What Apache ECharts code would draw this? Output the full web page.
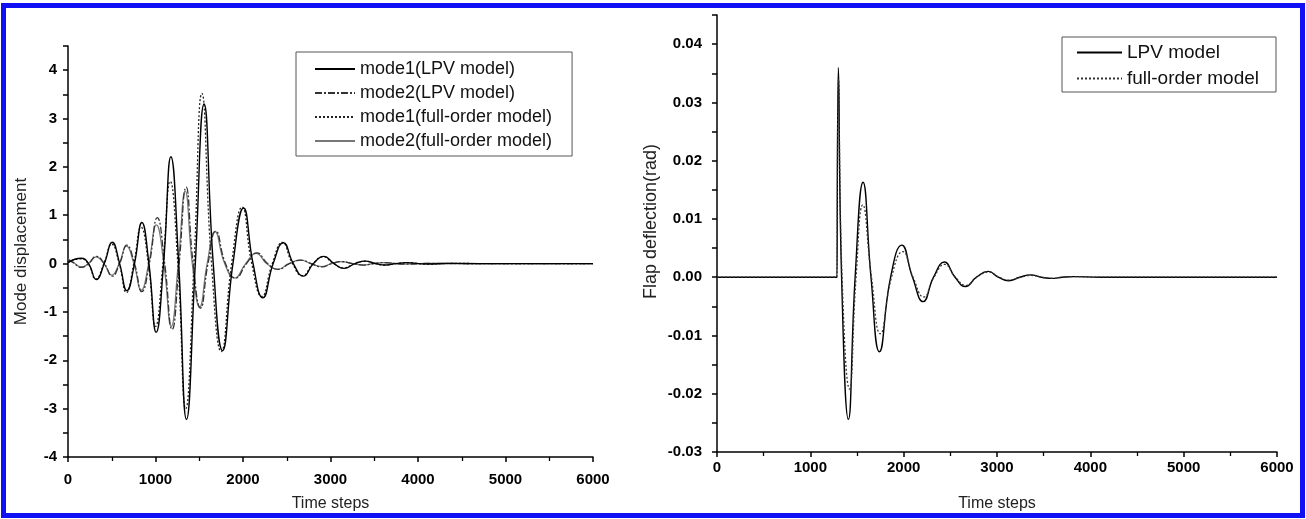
<!DOCTYPE html>
<html>
<head>
<meta charset="utf-8">
<script src="https://cdn.jsdelivr.net/npm/echarts@6/dist/echarts.min.js"></script>
<style>
html,body{margin:0;padding:0;background:#fff;}
#wrap{position:relative;width:1306px;height:519px;overflow:hidden;background:#fff;}
#chart{position:absolute;left:0;top:0;width:1306px;height:519px;}
#frame{position:absolute;left:1px;top:3px;width:1304px;height:515px;box-sizing:border-box;border:5px solid #1010f5;pointer-events:none;}
</style>
</head>
<body>
<div id="wrap"><div id="chart"></div><div id="frame"></div></div>
<script>
// ---------- Left panel: mode displacement ----------
const seriesNamesLeft = ['mode1(LPV model)', 'mode2(LPV model)', 'mode1(full-order model)', 'mode2(full-order model)'];

const mode1LpvT = [0, 150, 235, 323, 415, 506, 590, 673, 760, 844, 925, 1008, 1092, 1176, 1265, 1354, 1455, 1555, 1660, 1766, 1885, 2006, 2115, 2227, 2345, 2462, 2575, 2690, 2805, 2924, 3040, 3155, 3280, 3400, 3515, 3630, 3750, 3870, 4100, 4400, 4700, 6000];
const mode1LpvV = [0.02, 0.11, 0, -0.33, 0, 0.44, 0, -0.56, 0, 0.85, 0, -1.42, 0, 2.21, 0, -3.22, 0, 3.3, 0, -1.8, 0, 1.15, 0, -0.71, 0, 0.43, 0, -0.26, 0, 0.15, 0, -0.1, 0, 0.05, 0, -0.03, 0, 0.02, -0.01, 0.005, 0, 0];

const mode2LpvT = [0, 60, 150, 235, 323, 415, 506, 590, 673, 760, 844, 930, 1020, 1105, 1190, 1270, 1350, 1430, 1515, 1600, 1690, 1800, 1915, 2040, 2160, 2280, 2400, 2530, 2660, 2780, 2900, 3015, 3130, 3255, 3380, 3490, 3600, 3850, 4150, 4500, 6000];
const mode2LpvV = [0.08, 0.02, -0.08, 0, 0.15, 0, -0.26, 0, 0.38, 0, -0.58, 0, 0.95, 0, -1.36, 0, 1.58, 0, -0.92, 0, 0.67, 0, -0.3, 0, 0.22, 0, -0.12, 0, 0.07, 0, -0.07, 0, 0.04, 0, -0.03, 0, 0.02, -0.01, 0.005, 0, 0];

const mode1FullT = [0, 145, 230, 318, 410, 500, 585, 668, 752, 835, 918, 1000, 1085, 1168, 1255, 1345, 1440, 1530, 1640, 1752, 1870, 1990, 2100, 2215, 2335, 2450, 2565, 2680, 2800, 2915, 3035, 3150, 3275, 3395, 3510, 3625, 3745, 3865, 4100, 4400, 4700, 6000];
const mode1FullV = [0.03, 0.1, 0, -0.32, 0, 0.4, 0, -0.6, 0, 0.75, 0, -1.3, 0, 1.7, 0, -3.0, 0, 3.52, 0, -1.82, 0, 1.17, 0, -0.68, 0, 0.44, 0, -0.25, 0, 0.14, 0, -0.09, 0, 0.05, 0, -0.03, 0, 0.02, -0.01, 0.005, 0, 0];

const mode2FullT = [0, 60, 150, 235, 320, 410, 500, 585, 668, 752, 838, 922, 1010, 1095, 1180, 1260, 1340, 1420, 1505, 1590, 1680, 1790, 1905, 2030, 2150, 2270, 2395, 2525, 2655, 2775, 2895, 3010, 3125, 3250, 3375, 3490, 3600, 3850, 4150, 4500, 6000];
const mode2FullV = [0.1, 0.03, -0.07, 0, 0.14, 0, -0.24, 0, 0.36, 0, -0.55, 0, 0.8, 0, -1.3, 0, 1.5, 0, -0.9, 0, 0.66, 0, -0.3, 0, 0.21, 0, -0.12, 0, 0.07, 0, -0.06, 0, 0.04, 0, -0.03, 0, 0.02, -0.01, 0.005, 0, 0];

// ---------- Right panel: flap deflection ----------
const seriesNamesRight = ['LPV model', 'full-order model'];

const flapLpvT = [0, 1286, 1292, 1300, 1335, 1408, 1480, 1565, 1650, 1740, 1860, 1980, 2095, 2209, 2320, 2437, 2550, 2662, 2780, 2906, 3015, 3125, 3245, 3362, 3475, 3590, 3700, 3820, 4100, 6000];
const flapLpvV = [0, 0, 0, 0.036, 0, -0.0244, 0, 0.0163, 0, -0.0128, 0, 0.0055, 0, -0.0042, 0, 0.0026, 0, -0.0016, 0, 0.001, 0, -0.0006, 0, 0.0004, 0, -0.0002, 0, 0.0001, 0, 0];

const flapFullT = [0, 1286, 1292, 1302, 1340, 1420, 1490, 1562, 1655, 1750, 1870, 1990, 2100, 2215, 2325, 2440, 2555, 2668, 2785, 2910, 3020, 3130, 3250, 3366, 3480, 3595, 3705, 3825, 4100, 6000];
const flapFullV = [0, 0, 0, 0.034, 0, -0.0192, 0, 0.0124, 0, -0.0097, 0, 0.0044, 0, -0.0034, 0, 0.0022, 0, -0.0014, 0, 0.0009, 0, -0.0005, 0, 0.0003, 0, -0.0002, 0, 0.0001, 0, 0];

const xTickLabels = ['0', '1000', '2000', '3000', '4000', '5000', '6000'];

// ---------- build ----------
const FONT = "'Liberation Sans', Arial, Helvetica, sans-serif";
function pairs(t, v) { return t.map((x, i) => [x, v[i]]); }

function xAxisCfg(gridIndex, labelMargin, nameGap) {
  return {
    type: 'value', gridIndex: gridIndex, min: 0, max: 6000, interval: 1000,
    name: 'Time steps', nameLocation: 'middle', nameGap: nameGap,
    nameTextStyle: { fontFamily: FONT, fontSize: 16, color: '#222' },
    axisLine: { show: true, onZero: false, lineStyle: { color: '#000', width: 1.5 } },
    axisTick: { show: true, inside: false, length: 5, lineStyle: { color: '#000', width: 1.5 } },
    minorTick: { show: true, splitNumber: 2, length: 4, lineStyle: { color: '#000', width: 1.3 } },
    splitLine: { show: false }, minorSplitLine: { show: false },
    axisLabel: {
      margin: labelMargin, fontFamily: FONT, fontSize: 15, fontWeight: 'bold', color: '#000',
      formatter: function (v) { const i = Math.round(v / 1000); return xTickLabels[i] !== undefined ? xTickLabels[i] : ''; }
    }
  };
}

const lineBase = { type: 'line', showSymbol: false, symbol: 'none', smooth: 0.5, animation: false };

const option = {
  animation: false,
  backgroundColor: '#fff',
  grid: [
    { left: 68, top: 46, width: 525, height: 411, containLabel: false },
    { left: 717, top: 15, width: 560, height: 437, containLabel: false }
  ],
  legend: [
    {
      data: seriesNamesLeft, orient: 'vertical', left: 296, top: 52,
      itemWidth: 40, itemHeight: 12, itemGap: 6,
      itemStyle: { opacity: 0 },
      textStyle: { fontFamily: FONT, fontSize: 18, color: '#111' },
      borderColor: '#555', borderWidth: 1, borderRadius: 0,
      padding: [8, 20, 6, 18], backgroundColor: '#fff'
    },
    {
      data: seriesNamesRight, orient: 'vertical', left: 1062, top: 37,
      itemWidth: 45, itemHeight: 12, itemGap: 7,
      itemStyle: { opacity: 0 },
      textStyle: { fontFamily: FONT, fontSize: 19, color: '#111' },
      borderColor: '#555', borderWidth: 1, borderRadius: 0,
      padding: [6, 17, 4, 14], backgroundColor: '#fff'
    }
  ],
  xAxis: [xAxisCfg(0, 15, 39), xAxisCfg(1, 8, 44)],
  yAxis: [
    {
      type: 'value', gridIndex: 0, min: -4, max: 4.5, interval: 0.5,
      name: 'Mode displacement', nameLocation: 'middle', nameGap: 38,
      nameTextStyle: { fontFamily: FONT, fontSize: 17, color: '#222' },
      axisLine: { show: true, onZero: false, lineStyle: { color: '#000', width: 1.5 } },
      axisTick: { show: true, inside: false, length: 5, lineStyle: { color: '#000', width: 1.5 } },
      splitLine: { show: false },
      axisLabel: {
        margin: 11, fontFamily: FONT, fontSize: 15, fontWeight: 'bold', color: '#000',
        showMaxLabel: true,
        formatter: function (v) { return (Math.abs(v - Math.round(v)) < 1e-9 && v <= 4) ? String(Math.round(v)) : ''; }
      }
    },
    {
      type: 'value', gridIndex: 1, min: -0.03, max: 0.045, interval: 0.005,
      name: 'Flap deflection(rad)', nameLocation: 'middle', nameGap: 57,
      nameTextStyle: { fontFamily: FONT, fontSize: 18, color: '#222', padding: [0, 0, 0, 24] },
      axisLine: { show: true, onZero: false, lineStyle: { color: '#000', width: 1.5 } },
      axisTick: { show: true, inside: false, length: 5, lineStyle: { color: '#000', width: 1.5 } },
      splitLine: { show: false },
      axisLabel: {
        margin: 15, fontFamily: FONT, fontSize: 15, fontWeight: 'bold', color: '#000',
        formatter: function (v) { const k = v * 100; return (Math.abs(k - Math.round(k)) < 1e-6 && v < 0.0449) ? (Math.round(k) / 100).toFixed(2) : ''; }
      }
    }
  ],
  series: [
    Object.assign({}, lineBase, { name: seriesNamesLeft[0], xAxisIndex: 0, yAxisIndex: 0, data: pairs(mode1LpvT, mode1LpvV), lineStyle: { color: '#000', width: 1.4, type: 'solid' }, itemStyle: { color: '#000' }, z: 5 }),
    Object.assign({}, lineBase, { name: seriesNamesLeft[1], xAxisIndex: 0, yAxisIndex: 0, data: pairs(mode2LpvT, mode2LpvV), lineStyle: { color: '#333', width: 1.3, type: [7, 2, 2, 2] }, itemStyle: { color: '#333' }, z: 4 }),
    Object.assign({}, lineBase, { name: seriesNamesLeft[2], xAxisIndex: 0, yAxisIndex: 0, data: pairs(mode1FullT, mode1FullV), lineStyle: { color: '#222', width: 1.3, type: [2, 2] }, itemStyle: { color: '#222' }, z: 3 }),
    Object.assign({}, lineBase, { name: seriesNamesLeft[3], xAxisIndex: 0, yAxisIndex: 0, data: pairs(mode2FullT, mode2FullV), lineStyle: { color: '#777', width: 1.2, type: 'solid' }, itemStyle: { color: '#777' }, z: 2 }),
    Object.assign({}, lineBase, { name: seriesNamesRight[0], xAxisIndex: 1, yAxisIndex: 1, data: pairs(flapLpvT, flapLpvV), lineStyle: { color: '#000', width: 1.4, type: 'solid' }, itemStyle: { color: '#000' }, z: 5 }),
    Object.assign({}, lineBase, { name: seriesNamesRight[1], xAxisIndex: 1, yAxisIndex: 1, data: pairs(flapFullT, flapFullV), lineStyle: { color: '#333', width: 1.3, type: [2, 2] }, itemStyle: { color: '#333' }, z: 6 })
  ]
};

const chart = echarts.init(document.getElementById('chart'), null, { renderer: 'canvas', width: 1306, height: 519 });
chart.setOption(option);
</script>
</body>
</html>
